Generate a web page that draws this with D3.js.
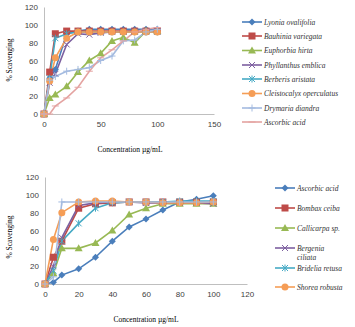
<html>
<head>
<style>
body { margin: 0; background: #fff; }
text { font-family: "Liberation Sans", Arial, sans-serif; }
</style>
</head>
<body>
<div id="chart"></div>
<script src="https://cdnjs.cloudflare.com/ajax/libs/d3/7.8.5/d3.min.js"></script>
<script>
// chart 1 data
var conc1 = [0, 5, 10, 20, 30, 40, 50, 60, 70, 80, 90, 100];
var names1 = ['Lyonia ovalifolia', 'Bauhinia variegata', 'Euphorbia hirta', 'Phyllanthus emblica',
  'Berberis aristata', 'Cleistocalyx operculatus', 'Drymaria diandra', 'Ascorbic acid'];
var lyonia = [0, 40, 50, 90, 93, 95, 95, 95, 95, 95, 95, 95];
var bauhinia = [0, 47, 90, 93, 93, 93, 93, 93, 93, 93, 93, 93];
var euphorbia = [0, 18, 22, 31, 47, 60, 68, 82, 86, 80, 93, 93];
var phyllanthus = [0, 35, 45, 78, 90, 89, 91, 92, 92, 93, 93, 93];
var berberis = [0, 40, 85, 90, 92, 92, 92, 92, 92, 92, 92, 92];
var cleistocalyx = [0, 37, 63, 85, 92, 92, 92, 92, 92, 92, 92, 92];
var drymaria = [0, 38, 42, 48, 50, 52, 60, 65, 82, 83, 92, 95];
var ascorbic1 = [0, 0, 9, 18, 30, 48, 63, 72, 82, 92, 95, 97];
var xTicks1 = [0, 50, 100, 150];

// chart 2 data
var conc2 = [0, 5, 10, 20, 30, 40, 50, 60, 70, 80, 90, 100];
var names2 = ['Ascorbic acid', 'Bombax ceiba', 'Callicarpa sp.', 'Bergenia ciliata', 'Bridelia retusa', 'Shorea robusta', ''];
var ascorbic2 = [0, 2, 10, 17, 30, 48, 64, 73, 83, 92, 95, 99];
var bombax = [0, 30, 48, 85, 90, 91, 92, 92, 92, 92, 92, 92];
var callicarpa = [0, 12, 40, 40, 46, 60, 78, 85, 90, 90, 90, 90];
var bergenia = [0, 20, 52, 88, 91, 92, 92, 91, 91, 91, 91, 90];
var bridelia = [0, 15, 48, 68, 85, 91, 92, 92, 92, 93, 93, 93];
var shorea = [0, 50, 80, 92, 93, 93, 92, 92, 91, 91, 91, 92];
var extra2 = [0, 8, 92, 92, 92, 92, 92, 92, 92, 92, 92, 92];
var xTicks2 = [0, 20, 40, 60, 80, 100, 120];
var yTicks = [0, 20, 40, 60, 80, 100, 120];

var colors = ['#4a7ebb', '#be4b48', '#98b954', '#7d60a0', '#46aac5', '#f59d56', '#a4bbe0', '#e4a3a1'];
var markers = ['diamond', 'square', 'triangle', 'x', 'star', 'circle', 'plus', 'dash'];

var svg = d3.select('#chart').append('svg').attr('width', 355).attr('height', 327);

function marker(g, type, x, y, c) {
  if (type === 'diamond') g.append('path').attr('d', 'M' + x + ',' + (y - 3.5) + 'l3.5,3.5l-3.5,3.5l-3.5,-3.5z').attr('fill', c);
  else if (type === 'square') g.append('rect').attr('x', x - 3.5).attr('y', y - 3.5).attr('width', 7).attr('height', 7).attr('fill', c);
  else if (type === 'triangle') g.append('path').attr('d', 'M' + x + ',' + (y - 4) + 'l4,7h-8z').attr('fill', c);
  else if (type === 'circle') g.append('circle').attr('cx', x).attr('cy', y).attr('r', 3.5).attr('fill', c);
  else if (type === 'x') g.append('path').attr('d', 'M' + (x - 3) + ',' + (y - 3) + 'l6,6M' + (x + 3) + ',' + (y - 3) + 'l-6,6').attr('stroke', c).attr('stroke-width', 1);
  else if (type === 'star') g.append('path').attr('d', 'M' + (x - 3) + ',' + (y - 3) + 'l6,6M' + (x + 3) + ',' + (y - 3) + 'l-6,6M' + x + ',' + (y - 3.5) + 'v7').attr('stroke', c).attr('stroke-width', 1);
  else if (type === 'plus') g.append('path').attr('d', 'M' + (x - 3.5) + ',' + y + 'h7M' + x + ',' + (y - 3.5) + 'v7').attr('stroke', c).attr('stroke-width', 1);
  else if (type === 'dash') g.append('path').attr('d', 'M' + (x - 3.5) + ',' + y + 'h7').attr('stroke', c).attr('stroke-width', 1);
}

function drawChart(opt) {
  var x = d3.scaleLinear().domain(opt.xDomain).range(opt.xRange);
  var y = d3.scaleLinear().domain([0, 120]).range(opt.yRange);
  var g = svg.append('g');

  // axes
  var xAxis = d3.axisBottom(x).tickValues(opt.xTicks).tickSize(0).tickPadding(7);
  g.append('g').attr('transform', 'translate(0,' + opt.yRange[0] + ')').call(xAxis);
  var yAxis = d3.axisLeft(y).tickValues(yTicks).tickSize(0).tickPadding(6);
  g.append('g').attr('transform', 'translate(' + opt.xRange[0] + ',0)').call(yAxis);
  g.selectAll('.domain').attr('stroke', '#bfbfbf');
  g.selectAll('.tick text').attr('font-size', 8).attr('fill', '#404040');

  // lines
  var line = d3.line().x(function(d, i) { return x(opt.conc[i]); }).y(function(d) { return y(d); });
  opt.series.forEach(function(s, k) {
    g.append('path').attr('d', line(s)).attr('fill', 'none').attr('stroke', colors[k]).attr('stroke-width', 1.6);
  });
  opt.series.forEach(function(s, k) {
    s.forEach(function(v, i) { marker(g, markers[k], x(opt.conc[i]), y(v), colors[k]); });
  });

  // titles
  g.append('text').attr('x', opt.titleX).attr('y', opt.titleY).attr('text-anchor', 'middle')
    .style('font-family', '"Liberation Serif", serif').attr('font-size', 7.5).text('Concentration µg/mL');
  g.append('text').attr('transform', 'translate(12,' + opt.yTitleY + ') rotate(-90)').attr('text-anchor', 'middle')
    .style('font-family', '"Liberation Serif", serif').attr('font-size', 7.5).text('% Scavenging');

  // legend
  opt.names.forEach(function(n, k) {
    if (!n) return;
    var ly = opt.legY[k];
    g.append('line').attr('x1', opt.legX).attr('x2', opt.legX + 20).attr('y1', ly).attr('y2', ly)
      .attr('stroke', colors[k]).attr('stroke-width', 1.6);
    marker(g, markers[k], opt.legX + 10, ly, colors[k]);
    var t = g.append('text').attr('x', opt.legX + 22).attr('y', ly + 2.5)
      .style('font-family', '"Liberation Serif", serif').style('font-style', 'italic')
      .attr('font-size', 7.5).attr('fill', '#333');
    var parts = opt.wrap && n === 'Bergenia ciliata' ? ['Bergenia', 'ciliata'] : [n];
    parts.forEach(function(p, j) { t.append('tspan').attr('x', opt.legX + 22).attr('dy', j ? 9 : 0).text(p); });
  });
}

drawChart({
  conc: conc1, series: [lyonia, bauhinia, euphorbia, phyllanthus, berberis, cleistocalyx, drymaria, ascorbic1],
  names: names1, xDomain: [0, 150], xRange: [44, 214], yRange: [114, 7], xTicks: xTicks1,
  titleX: 130, titleY: 152, yTitleY: 60, legX: 242, legY: [22, 36, 50.5, 65, 79, 93.5, 108, 122]
});

drawChart({
  conc: conc2, series: [ascorbic2, bombax, callicarpa, bergenia, bridelia, shorea, extra2],
  names: names2, xDomain: [0, 120], xRange: [45, 247], yRange: [284, 177], xTicks: xTicks2,
  titleX: 146, titleY: 322, yTitleY: 237, legX: 275, legY: [188, 208, 228, 248, 268, 287], wrap: true
});
</script>
</body>
</html>
